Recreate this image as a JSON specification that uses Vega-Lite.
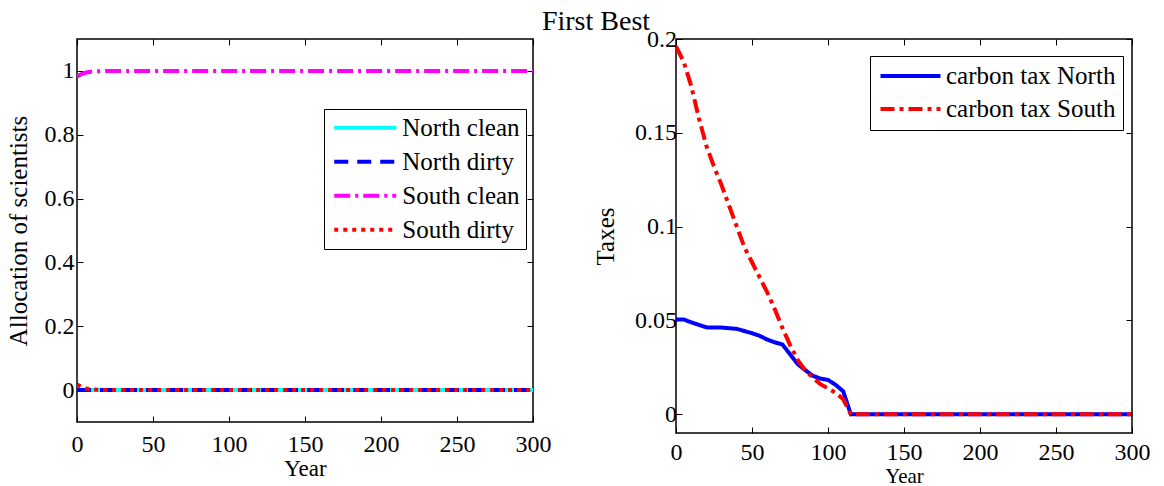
{
  "$schema": "https://vega.github.io/schema/vega-lite/v6.json",
  "padding": {"left": 5, "top": 8, "right": 5, "bottom": 0},
  "title": {"text": "First Best", "fontSize": 28, "font": "Liberation Serif", "fontWeight": "normal", "color": "black", "anchor": "middle", "offset": -10, "dx": 18},
  "config": {
    "font": "Liberation Serif",
    "view": {"stroke": "black", "strokeWidth": 1.5},
    "axis": {"labelFont": "Liberation Serif", "labelFontSize": 24, "labelColor": "black", "titleFont": "Liberation Serif", "titleFontSize": 23, "titleFontWeight": "normal", "titleColor": "black", "tickColor": "black", "tickWidth": 1, "domain": false, "grid": false, "labelFlush": false, "labelOverlap": false, "tickSize": -6},
    "legend": {"labelLimit": 300}
  },
  "datasets": {
    "alloc": [
      {"year": 0, "value": 0, "series": "North clean"}, {"year": 5, "value": 0, "series": "North clean"}, {"year": 10, "value": 0, "series": "North clean"}, {"year": 20, "value": 0, "series": "North clean"}, {"year": 50, "value": 0, "series": "North clean"}, {"year": 100, "value": 0, "series": "North clean"}, {"year": 150, "value": 0, "series": "North clean"}, {"year": 200, "value": 0, "series": "North clean"}, {"year": 250, "value": 0, "series": "North clean"}, {"year": 300, "value": 0, "series": "North clean"},
      {"year": 0, "value": 0, "series": "North dirty"}, {"year": 5, "value": 0, "series": "North dirty"}, {"year": 10, "value": 0, "series": "North dirty"}, {"year": 20, "value": 0, "series": "North dirty"}, {"year": 50, "value": 0, "series": "North dirty"}, {"year": 100, "value": 0, "series": "North dirty"}, {"year": 150, "value": 0, "series": "North dirty"}, {"year": 200, "value": 0, "series": "North dirty"}, {"year": 250, "value": 0, "series": "North dirty"}, {"year": 300, "value": 0, "series": "North dirty"},
      {"year": 0, "value": 0.983, "series": "South clean"}, {"year": 3, "value": 0.99, "series": "South clean"}, {"year": 6, "value": 0.995, "series": "South clean"}, {"year": 10, "value": 0.998, "series": "South clean"}, {"year": 15, "value": 0.999, "series": "South clean"}, {"year": 20, "value": 1, "series": "South clean"}, {"year": 50, "value": 1, "series": "South clean"}, {"year": 100, "value": 1, "series": "South clean"}, {"year": 150, "value": 1, "series": "South clean"}, {"year": 200, "value": 1, "series": "South clean"}, {"year": 250, "value": 1, "series": "South clean"}, {"year": 300, "value": 1, "series": "South clean"},
      {"year": 0, "value": 0.017, "series": "South dirty"}, {"year": 3, "value": 0.01, "series": "South dirty"}, {"year": 6, "value": 0.005, "series": "South dirty"}, {"year": 10, "value": 0.002, "series": "South dirty"}, {"year": 15, "value": 0.001, "series": "South dirty"}, {"year": 20, "value": 0, "series": "South dirty"}, {"year": 50, "value": 0, "series": "South dirty"}, {"year": 100, "value": 0, "series": "South dirty"}, {"year": 150, "value": 0, "series": "South dirty"}, {"year": 200, "value": 0, "series": "South dirty"}, {"year": 250, "value": 0, "series": "South dirty"}, {"year": 300, "value": 0, "series": "South dirty"}
    ],
    "tax": [
      {"year": 0, "value": 0.0505, "series": "carbon tax North"}, {"year": 5, "value": 0.0505, "series": "carbon tax North"}, {"year": 10, "value": 0.049, "series": "carbon tax North"}, {"year": 20, "value": 0.0463, "series": "carbon tax North"}, {"year": 30, "value": 0.0462, "series": "carbon tax North"}, {"year": 40, "value": 0.0455, "series": "carbon tax North"}, {"year": 50, "value": 0.0432, "series": "carbon tax North"}, {"year": 55, "value": 0.0418, "series": "carbon tax North"}, {"year": 60, "value": 0.0398, "series": "carbon tax North"}, {"year": 65, "value": 0.0383, "series": "carbon tax North"}, {"year": 70, "value": 0.0372, "series": "carbon tax North"}, {"year": 75, "value": 0.032, "series": "carbon tax North"}, {"year": 80, "value": 0.0268, "series": "carbon tax North"}, {"year": 85, "value": 0.0235, "series": "carbon tax North"}, {"year": 90, "value": 0.0205, "series": "carbon tax North"}, {"year": 95, "value": 0.019, "series": "carbon tax North"}, {"year": 100, "value": 0.0183, "series": "carbon tax North"}, {"year": 105, "value": 0.0157, "series": "carbon tax North"}, {"year": 110, "value": 0.0122, "series": "carbon tax North"}, {"year": 115, "value": 0, "series": "carbon tax North"}, {"year": 150, "value": 0, "series": "carbon tax North"}, {"year": 200, "value": 0, "series": "carbon tax North"}, {"year": 250, "value": 0, "series": "carbon tax North"}, {"year": 300, "value": 0, "series": "carbon tax North"},
      {"year": 0, "value": 0.196, "series": "carbon tax South"}, {"year": 5, "value": 0.188, "series": "carbon tax South"}, {"year": 10, "value": 0.175, "series": "carbon tax South"}, {"year": 15, "value": 0.158, "series": "carbon tax South"}, {"year": 20, "value": 0.143, "series": "carbon tax South"}, {"year": 25, "value": 0.132, "series": "carbon tax South"}, {"year": 30, "value": 0.122, "series": "carbon tax South"}, {"year": 35, "value": 0.111, "series": "carbon tax South"}, {"year": 40, "value": 0.1, "series": "carbon tax South"}, {"year": 45, "value": 0.089, "series": "carbon tax South"}, {"year": 50, "value": 0.081, "series": "carbon tax South"}, {"year": 55, "value": 0.073, "series": "carbon tax South"}, {"year": 60, "value": 0.065, "series": "carbon tax South"}, {"year": 65, "value": 0.056, "series": "carbon tax South"}, {"year": 70, "value": 0.046, "series": "carbon tax South"}, {"year": 75, "value": 0.037, "series": "carbon tax South"}, {"year": 80, "value": 0.029, "series": "carbon tax South"}, {"year": 85, "value": 0.0235, "series": "carbon tax South"}, {"year": 90, "value": 0.0195, "series": "carbon tax South"}, {"year": 95, "value": 0.016, "series": "carbon tax South"}, {"year": 100, "value": 0.0138, "series": "carbon tax South"}, {"year": 105, "value": 0.0115, "series": "carbon tax South"}, {"year": 110, "value": 0.008, "series": "carbon tax South"}, {"year": 115, "value": 0, "series": "carbon tax South"}, {"year": 150, "value": 0, "series": "carbon tax South"}, {"year": 200, "value": 0, "series": "carbon tax South"}, {"year": 250, "value": 0, "series": "carbon tax South"}, {"year": 300, "value": 0, "series": "carbon tax South"}
    ]
  },
  "spacing": 143,
  "bounds": "flush",
  "resolve": {"scale": {"color": "independent", "strokeDash": "independent"}},
  "hconcat": [
    {
      "width": 456,
      "height": 383,
      "data": {"name": "alloc"},
      "layer": [
        {
          "mark": {"type": "line", "strokeWidth": 4, "clip": true},
          "encoding": {
            "x": {"field": "year", "type": "quantitative", "scale": {"domain": [0, 300], "nice": false, "zero": false}, "axis": {"values": [0, 50, 100, 150, 200, 250, 300], "title": "Year", "labelPadding": 16, "minExtent": 30, "maxExtent": 30, "titlePadding": 5}},
            "y": {"field": "value", "type": "quantitative", "scale": {"domain": [-0.1, 1.1], "nice": false, "zero": false}, "axis": {"values": [0, 0.2, 0.4, 0.6, 0.8, 1], "format": "~g", "title": "Allocation of scientists", "titleFontSize": 25, "labelPadding": 9, "minExtent": 40, "maxExtent": 40, "titlePadding": 6}},
            "color": {"field": "series", "type": "nominal", "scale": {"domain": ["North clean", "North dirty", "South clean", "South dirty"], "range": ["#00FFFF", "#0000FF", "#FF00FF", "#FF0000"]}, "legend": {"orient": "none", "legendX": 247, "legendY": 70, "title": null, "symbolType": "stroke", "symbolSize": 3844, "symbolStrokeWidth": 4, "labelFontSize": 25, "labelFont": "Liberation Serif", "labelColor": "black", "strokeColor": "black", "fillColor": "white", "padding": 6.25, "clipHeight": 25, "rowPadding": 8, "symbolOffset": 2, "labelOffset": 4}},
            "strokeDash": {"field": "series", "type": "nominal", "scale": {"domain": ["North clean", "North dirty", "South clean", "South dirty"], "range": [[1, 0], [14, 9], [16, 5, 3, 5], [4, 5]]}, "legend": {"orient": "none", "legendX": 247, "legendY": 70, "title": null, "symbolType": "stroke", "symbolSize": 3844, "symbolStrokeWidth": 4, "labelFontSize": 25, "labelFont": "Liberation Serif", "labelColor": "black", "strokeColor": "black", "fillColor": "white", "padding": 6.25, "clipHeight": 25, "rowPadding": 8, "symbolOffset": 2, "labelOffset": 4}}
          }
        },
        {
          "mark": {"type": "line", "opacity": 0},
          "encoding": {
            "x": {"field": "year", "type": "quantitative", "axis": {"orient": "top", "values": [0, 50, 100, 150, 200, 250, 300], "labels": false, "title": null}},
            "y": {"field": "value", "type": "quantitative", "axis": {"orient": "right", "values": [0, 0.2, 0.4, 0.6, 0.8, 1], "labels": false, "title": null}}
          }
        }
      ],
      "resolve": {"axis": {"x": "independent", "y": "independent"}}
    },
    {
      "width": 456,
      "height": 394,
      "data": {"name": "tax"},
      "layer": [
        {
          "mark": {"type": "line", "strokeWidth": 4, "clip": true},
          "encoding": {
            "x": {"field": "year", "type": "quantitative", "scale": {"domain": [0, 300], "nice": false, "zero": false}, "axis": {"values": [0, 50, 100, 150, 200, 250, 300], "title": "Year", "titleFontSize": 21, "labelPadding": 13, "minExtent": 31, "maxExtent": 31, "titlePadding": 1}},
            "y": {"field": "value", "type": "quantitative", "scale": {"domain": [-0.01, 0.2], "nice": false, "zero": false}, "axis": {"values": [0, 0.05, 0.1, 0.15, 0.2], "format": "~g", "title": "Taxes", "titleFontSize": 25, "labelPadding": 5.5, "minExtent": 50, "maxExtent": 50, "titlePadding": 8}},
            "color": {"field": "series", "type": "nominal", "scale": {"domain": ["carbon tax North", "carbon tax South"], "range": ["#0000FF", "#FF0000"]}, "legend": {"orient": "none", "legendX": 194, "legendY": 17, "title": null, "symbolType": "stroke", "symbolSize": 3600, "symbolStrokeWidth": 4, "labelFontSize": 25, "labelFont": "Liberation Serif", "labelColor": "black", "strokeColor": "black", "fillColor": "white", "padding": 7.5, "clipHeight": 25, "rowPadding": 7, "symbolOffset": 1, "labelOffset": 3.5}},
            "strokeDash": {"field": "series", "type": "nominal", "scale": {"domain": ["carbon tax North", "carbon tax South"], "range": [[1, 0], [14, 5, 4, 5]]}, "legend": {"orient": "none", "legendX": 194, "legendY": 17, "title": null, "symbolType": "stroke", "symbolSize": 3600, "symbolStrokeWidth": 4, "labelFontSize": 25, "labelFont": "Liberation Serif", "labelColor": "black", "strokeColor": "black", "fillColor": "white", "padding": 7.5, "clipHeight": 25, "rowPadding": 7, "symbolOffset": 1, "labelOffset": 3.5}}
          }
        },
        {
          "mark": {"type": "line", "opacity": 0},
          "encoding": {
            "x": {"field": "year", "type": "quantitative", "axis": {"orient": "top", "values": [0, 50, 100, 150, 200, 250, 300], "labels": false, "title": null}},
            "y": {"field": "value", "type": "quantitative", "axis": {"orient": "right", "values": [0, 0.05, 0.1, 0.15, 0.2], "labels": false, "title": null}}
          }
        }
      ],
      "resolve": {"axis": {"x": "independent", "y": "independent"}}
    }
  ]
}
